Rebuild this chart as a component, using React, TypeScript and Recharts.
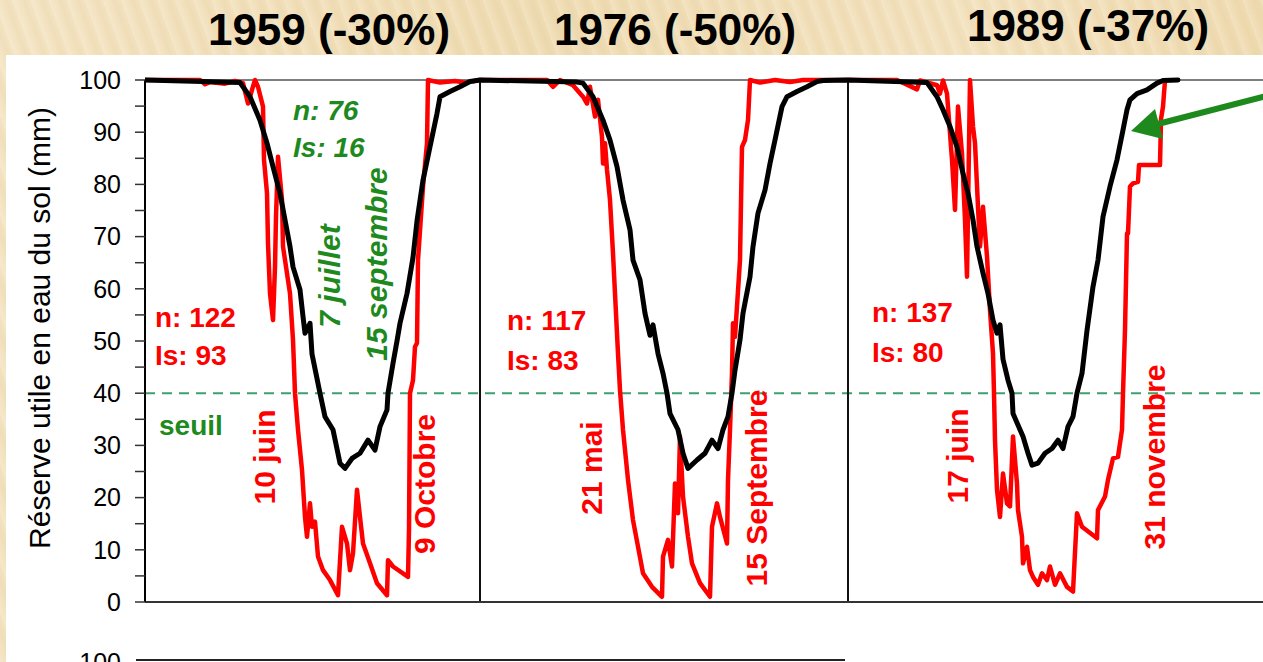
import { LineChart, Line, XAxis, YAxis, ReferenceLine } from "recharts";

// day offsets where each season panel starts on the shared x axis
const seasonStart = [0, 335, 703];
const seasonYears = ["1959 (-30%)", "1976 (-50%)", "1989 (-37%)"];
const yTicks = [0, 5, 10, 15, 20, 25, 30, 35, 40, 45, 50, 55, 60, 65, 70, 75, 80, 85, 90, 95, 100];
const seuil = 40;

// [day in season, reserve (mm)] - simulated (black)
const black1959 = [
  [0, 100], [95, 99.5], [105, 96.8], [115, 92.3], [122, 87.9], [128, 83.4], [135, 78.3], [140, 73.2],
  [145, 68.1], [148, 64.2], [155, 59.8], [158, 54.7], [160, 51.5], [165, 53.4], [167, 47.5], [175, 40],
  [180, 35.5], [188, 33], [195, 26.6], [200, 25.6], [207, 27.5], [215, 28.5], [223, 31], [230, 29.1],
  [235, 33.6], [242, 36.8], [243, 40], [248, 45.7], [252, 50], [255, 53.4], [262, 59.1], [268, 66],
  [272, 73], [278, 80.8], [285, 87.2], [292, 93.6], [295, 96.8], [305, 97.8], [315, 98.7], [325, 99.7],
  [335, 100],
];
const black1976 = [
  [0, 100], [97, 99.6], [103, 99.4], [113, 96.8], [123, 92.3], [130, 88.5], [137, 83.4], [143, 77],
  [150, 71.3], [153, 65.5], [160, 61.7], [165, 55.3], [170, 51.1], [173, 53.1], [178, 47.6], [183, 43.8],
  [187, 40], [190, 36.1], [198, 33], [203, 28.5], [208, 25.6], [217, 27.2], [225, 28.5], [232, 31],
  [238, 29.4], [243, 33], [248, 35.5], [252, 40], [255, 44.4], [260, 50.2], [263, 55.3], [270, 62.3],
  [273, 68.1], [278, 74.5], [285, 78.9], [290, 84], [295, 88.5], [302, 94.9], [307, 96.8], [317, 97.8],
  [327, 98.7], [337, 99.7], [343, 99.9], [368, 100],
];
const black1989 = [
  [0, 100], [79, 99.5], [89, 96.8], [95, 94.3], [102, 91.1], [109, 87.2], [115, 82.1], [120, 78.3],
  [125, 73.2], [129, 68.1], [135, 63], [140, 59.1], [145, 54], [149, 51.5], [152, 53.1], [155, 46.5],
  [160, 42.5], [164, 40], [165, 36.1], [175, 31.7], [180, 28.5], [184, 26.2], [190, 26.6], [197, 28.5],
  [204, 29.4], [210, 31], [215, 29.4], [220, 33.6], [225, 35.5], [229, 40], [234, 43.8], [239, 52],
  [245, 60.4], [250, 65.5], [255, 73.8], [262, 79.6], [269, 84.7], [275, 90.4], [279, 94.3], [282, 96.2],
  [289, 97.4], [299, 98.1], [309, 99.4], [315, 99.9], [330, 100],
];

// [day in season, reserve (mm)] - measured (red)
const red1959 = [
  [0, 100], [55, 100], [60, 99.2], [65, 99.6], [80, 99.3], [90, 99.8], [98, 99.4], [103, 95.5],
  [107, 98.1], [110, 100], [113, 98.7], [118, 94.9], [119, 84.7], [122, 78.3], [123, 68.7], [125, 59.1],
  [128, 54], [130, 64.2], [131, 73.8], [133, 85.3], [137, 77], [138, 68.1], [145, 59.1], [148, 50.2],
  [150, 40], [153, 33], [157, 25.3], [160, 16.3], [162, 12.5], [165, 18.9], [167, 14.4], [170, 15.4],
  [173, 8.7], [178, 6.1], [185, 4.2], [193, 1.3], [197, 14.4], [202, 11.2], [205, 6.1], [208, 9.3],
  [212, 21.5], [215, 16.3], [218, 11.2], [225, 7.4], [232, 3.6], [242, 1.3], [243, 8], [248, 6.8],
  [263, 4.8], [264, 13.8], [265, 40], [268, 42.5], [270, 48.9], [272, 49.6], [273, 65.5], [278, 79.6],
  [282, 87.9], [283, 100], [295, 99.5], [310, 99.8], [320, 99.5], [335, 100],
];
const red1976 = [
  [0, 100], [67, 100], [73, 98.7], [80, 100], [93, 99], [103, 96.8], [107, 95.5], [110, 98.7],
  [115, 93], [118, 96.2], [122, 89.1], [123, 84], [125, 87.9], [127, 82.8], [130, 77], [133, 66.8],
  [135, 59.1], [138, 47.6], [140, 40.6], [143, 33], [148, 23.4], [153, 15.7], [158, 10.6], [163, 5.5],
  [172, 2.9], [182, 1], [183, 8.7], [188, 11.9], [192, 6.8], [195, 22.7], [198, 17], [200, 31.7],
  [203, 20.2], [208, 12.5], [212, 7.4], [220, 3.6], [230, 1], [232, 14.4], [237, 18.9], [240, 16.3],
  [247, 11.2], [248, 23.4], [250, 33], [252, 44], [253, 53.4], [255, 50.8], [260, 65.5], [262, 87.2],
  [265, 88.5], [267, 91.1], [268, 92.3], [270, 100], [280, 99.5], [295, 100], [310, 99.6], [323, 100],
  [368, 100],
];
const red1989 = [
  [0, 100], [49, 100], [69, 98.2], [72, 99.9], [89, 99], [92, 97.4], [95, 99.9], [99, 97.4],
  [104, 84.7], [107, 75.1], [110, 94.9], [114, 85.9], [117, 73.2], [119, 62.3], [122, 100], [125, 91.1],
  [127, 87.9], [130, 75.7], [132, 68.1], [135, 75.7], [139, 66.2], [142, 55.9], [145, 47.6], [146, 40],
  [147, 31], [149, 21.5], [152, 16.3], [155, 24.6], [159, 18.9], [162, 18.3], [165, 31.7], [169, 22.7],
  [170, 17.6], [174, 12.5], [175, 7.4], [179, 10.6], [182, 6.1], [185, 4.8], [190, 3.3], [194, 5.5],
  [199, 4.2], [202, 6.8], [207, 3.3], [212, 5.5], [219, 2.9], [225, 2], [229, 17], [234, 14.4],
  [249, 12.2], [250, 17.6], [257, 20.2], [260, 23.4], [265, 27.5], [270, 27.8], [274, 33], [275, 40],
  [277, 52.1], [279, 70.6], [280, 70.6], [282, 79.6], [285, 80.2], [290, 80.5], [291, 83.7], [312, 83.7],
  [313, 92.5], [315, 94.9], [317, 99.9],
];

const toPoints = (seasons: number[][][]) =>
  seasons.flatMap((pairs, i) => pairs.map(([d, v]) => ({ day: seasonStart[i] + d, value: v })));

const redData = toPoints([red1959, red1976, red1989]);
const blackData = toPoints([black1959, black1976, black1989]);

const FONT = '"Liberation Sans", Arial, sans-serif';
const RED = "#ff0000";
const GREEN = "#1e8a1e";

const titles = [
  { text: seasonYears[0], x: 329, y: 45 },
  { text: seasonYears[1], x: 675, y: 45 },
  { text: seasonYears[2], x: 1088, y: 41 },
];

const statLabels = [
  { lines: ["n: 76", "Is: 16"], x: 293, y: [120, 157], color: GREEN, italic: true },
  { lines: ["n: 122", "Is: 93"], x: 155, y: [327, 365], color: RED, italic: false },
  { lines: ["n: 117", "Is: 83"], x: 507, y: [330, 370], color: RED, italic: false },
  { lines: ["n: 137", "Is: 80"], x: 872, y: [322, 362], color: RED, italic: false },
];

const dateLabels = [
  { text: "7 juillet", x: 340, y: 276, color: GREEN, italic: true },
  { text: "15 septembre", x: 387, y: 264, color: GREEN, italic: true },
  { text: "10 juin", x: 275, y: 457, color: RED, italic: false },
  { text: "9 Octobre", x: 435, y: 484, color: RED, italic: false },
  { text: "21 mai", x: 602, y: 468, color: RED, italic: false },
  { text: "15 Septembre", x: 767, y: 488, color: RED, italic: false },
  { text: "17 juin", x: 968, y: 456, color: RED, italic: false },
  { text: "31 novembre", x: 1165, y: 457, color: RED, italic: false },
];

export default function App() {
  return (
    <div
      style={{
        position: "absolute",
        left: 0,
        top: 0,
        width: 1263,
        height: 662,
        overflow: "hidden",
        background:
          "repeating-linear-gradient(70deg, rgba(255,255,255,0.18) 0px, rgba(255,255,255,0) 6px, rgba(200,160,100,0.08) 11px, rgba(255,255,255,0) 17px), linear-gradient(100deg, #f4e4c3 0%, #efdcb3 40%, #f3e2bf 70%, #eed9ad 100%)",
        fontFamily: FONT,
      }}
    >
      <div style={{ position: "absolute", left: 6, top: 55, width: 1300, height: 620, background: "#fff" }} />
      <div style={{ position: "absolute", left: 0, top: 0 }}>
        <LineChart width={1300} height={662} margin={{ top: 80, right: 5, left: 0, bottom: 50 }}>
          <XAxis
            type="number"
            dataKey="day"
            domain={[0, 1150]}
            allowDataOverflow
            height={10}
            tick={false}
            tickLine={false}
            axisLine={{ stroke: "#333", strokeWidth: 2 }}
          />
          <YAxis
            type="number"
            domain={[0, 100]}
            ticks={yTicks}
            width={145}
            tickSize={10}
            tickMargin={14}
            interval={0}
            tickFormatter={(v: number) => (v % 10 === 0 ? String(v) : "")}
            tick={{ fill: "#000", fontSize: 25, fontFamily: FONT }}
            tickLine={{ stroke: "#333", strokeWidth: 1.5 }}
            axisLine={{ stroke: "#000", strokeWidth: 2 }}
          />
          <ReferenceLine y={100} stroke="#000" strokeWidth={1.2} />
          <ReferenceLine y={seuil} stroke="#3f9f70" strokeWidth={2} strokeDasharray="10 7" />
          <ReferenceLine x={seasonStart[1]} stroke="#111" strokeWidth={2} />
          <ReferenceLine x={seasonStart[2]} stroke="#111" strokeWidth={2} />
          <Line
            data={redData}
            dataKey="value"
            type="linear"
            stroke={RED}
            strokeWidth={4.5}
            strokeLinejoin="round"
            dot={false}
            isAnimationActive={false}
          />
          <Line
            data={blackData}
            dataKey="value"
            type="linear"
            stroke="#000"
            strokeWidth={5}
            strokeLinejoin="round"
            strokeLinecap="round"
            dot={false}
            isAnimationActive={false}
          />
        </LineChart>
      </div>
      <svg
        width={1263}
        height={662}
        style={{ position: "absolute", left: 0, top: 0, pointerEvents: "none" }}
        fontFamily={FONT}
      >
        {titles.map((t) => (
          <text key={t.text} x={t.x} y={t.y} textAnchor="middle" fontSize={44} fontWeight="bold" fill="#000">
            {t.text}
          </text>
        ))}
        <text x={50} y={328} transform="rotate(-90 50 328)" textAnchor="middle" fontSize={30} fill="#000">
          Réserve utile en eau du sol (mm)
        </text>
        {statLabels.map((s) =>
          s.lines.map((line, i) => (
            <text
              key={line}
              x={s.x}
              y={s.y[i]}
              fontSize={28}
              fontWeight="bold"
              fontStyle={s.italic ? "italic" : "normal"}
              fill={s.color}
            >
              {line}
            </text>
          ))
        )}
        <text x={159} y={435} fontSize={28} fontWeight="bold" fill={GREEN}>
          seuil
        </text>
        {dateLabels.map((d) => (
          <text
            key={d.text}
            x={d.x}
            y={d.y}
            transform={`rotate(-90 ${d.x} ${d.y})`}
            textAnchor="middle"
            fontSize={30}
            fontWeight="bold"
            fontStyle={d.italic ? "italic" : "normal"}
            fill={d.color}
          >
            {d.text}
          </text>
        ))}
        <line x1={1270} y1={95} x2={1150} y2={126} stroke={GREEN} strokeWidth={6} />
        <polygon points="1131,131 1155,109 1163,139" fill={GREEN} />
        <line x1={136} y1={660} x2={845} y2={660} stroke="#222" strokeWidth={2} />
        <text x={121} y={671} textAnchor="end" fontSize={25} fill="#000">
          100
        </text>
      </svg>
    </div>
  );
}
